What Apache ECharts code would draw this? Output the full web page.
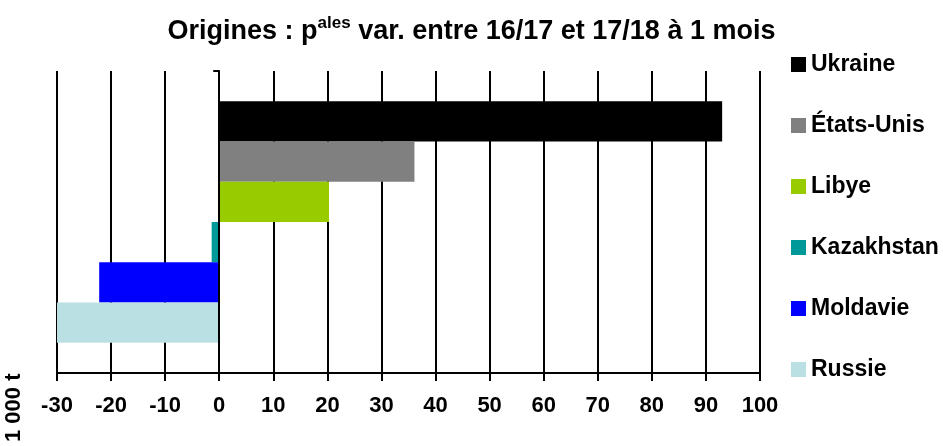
<!DOCTYPE html>
<html>
<head>
<meta charset="utf-8">
<script src="https://cdn.jsdelivr.net/npm/echarts@6/dist/echarts.min.js"></script>
<style>
html, body { margin: 0; padding: 0; background: #fff; }
#main { width: 943px; height: 446px; }
</style>
</head>
<body>
<div id="main"></div>
<script>
var pays = ['Ukraine', 'États-Unis', 'Libye', 'Kazakhstan', 'Moldavie', 'Russie'];
var variations = [93, 36.1, 20.3, -1.4, -22.2, -30];
var couleurs = ['#000000', '#808080', '#99CC00', '#009999', '#0000FF', '#BBE0E3'];
var ticks = [-30, -20, -10, 0, 10, 20, 30, 40, 50, 60, 70, 80, 90, 100];

var police = 'Liberation Sans, Arial, sans-serif';

var series = [];
for (var i = 0; i < pays.length; i++) {
    series.push({
        name: pays[i],
        type: 'bar',
        data: [variations[i]],
        barGap: '0%',
        barCategoryGap: '20%',
        itemStyle: { color: couleurs[i] }
    });
}

var chart = echarts.init(document.getElementById('main'));
var option = {
    animation: false,
    color: couleurs,
    title: {
        text: 'Origines : p{sup|ales} var. entre 16/17 et 17/18 à 1 mois',
        left: 'center',
        top: 10,
        textStyle: {
            fontFamily: police,
            fontWeight: 'bold',
            fontSize: 27,
            color: '#000',
            rich: {
                sup: { fontFamily: police, fontWeight: 'bold', fontSize: 17, verticalAlign: 'top', padding: [0, 0, 16, 0] }
            }
        }
    },
    legend: {
        orient: 'vertical',
        left: 786,
        top: 48,
        itemWidth: 15,
        itemHeight: 15,
        itemGap: 38,
        icon: 'rect',
        data: pays,
        textStyle: { fontFamily: police, fontWeight: 'bold', fontSize: 23, lineHeight: 22, color: '#000' }
    },
    grid: { left: 57, right: 183, top: 71, bottom: 73 },
    xAxis: {
        type: 'value',
        min: ticks[0],
        max: ticks[ticks.length - 1],
        interval: 10,
        axisLine: { show: true, lineStyle: { color: '#000', width: 2 } },
        axisTick: { show: true, length: 8, lineStyle: { color: '#000', width: 2 } },
        splitLine: { show: true, lineStyle: { color: '#000', width: 2 } },
        axisLabel: { fontFamily: police, fontWeight: 'bold', fontSize: 22, color: '#000', margin: 22 }
    },
    yAxis: {
        type: 'category',
        data: [''],
        inverse: true,
        z: 3,
        axisLine: { show: true, onZero: true, lineStyle: { color: '#000', width: 2 } },
        axisTick: { show: true, length: 6, lineStyle: { color: '#000', width: 2 } },
        axisLabel: { show: false },
        splitLine: { show: false }
    },
    graphic: [{
        type: 'text',
        x: 3,
        y: 442,
        rotation: Math.PI / 2,
        style: { text: '1 000 t', font: 'bold 22px Liberation Sans, Arial, sans-serif', fill: '#000', textVerticalAlign: 'top' }
    }],
    series: series
};
chart.setOption(option);
</script>
</body>
</html>
